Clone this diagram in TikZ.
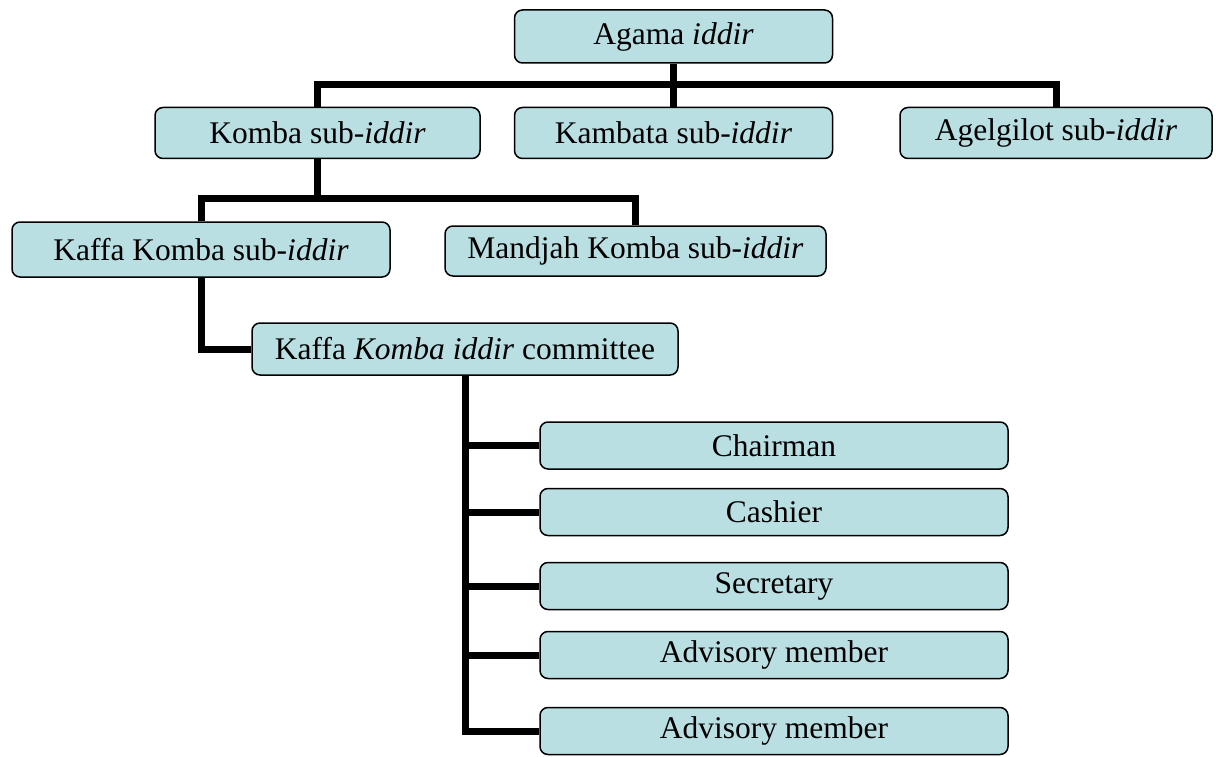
\documentclass[tikz,border=0pt]{standalone}
\usepackage{fontspec}
\setmainfont{Liberation Serif}
\usetikzlibrary{positioning}
\definecolor{boxblue}{RGB}{186,223,227}

\begin{document}
\begin{tikzpicture}[
        x=1pt, y=-1pt,
        node distance=22pt,
        orgbox/.style={rectangle, draw=black, fill=boxblue, line width=1.5pt, rounded corners=8pt, inner sep=0pt, align=center, font=\fontsize{31.5}{36}\selectfont},
        rolebox/.style={orgbox, minimum width=468pt, minimum height=47pt},
        link/.style={line width=7pt, draw=black}
    ]
    \useasboundingbox (0,0) rectangle (1216,757);

    \node (agama) [orgbox, minimum width=318pt, minimum height=53pt] at (673.5,36.5) {Agama \textit{iddir}};
    \node (komba) [orgbox, minimum width=325pt, minimum height=51pt] at (317.5,133) {Komba sub-\textit{iddir}};
    \node (kambata) [orgbox, minimum width=318pt, minimum height=51pt] at (673.5,133) {Kambata sub-\textit{iddir}};
    \node (agelgilot) [orgbox, minimum width=312pt, minimum height=51pt] at (1056,133) {Agelgilot sub-\textit{iddir}};

    \node (kaffa) [orgbox, minimum width=378pt, minimum height=55pt] at (201,249.5) {Kaffa Komba sub-\textit{iddir}};
    \node (mandjah) [orgbox, minimum width=381pt, minimum height=50pt] at (635.5,251) {Mandjah Komba sub-\textit{iddir}};

    \node (committee) [orgbox, minimum width=426pt, minimum height=52pt] at (465,349) {Kaffa \textit{Komba iddir} committee};

    \node (chairman) [rolebox] at (774,445.5) {Chairman};
    \node (cashier) [rolebox] at (774,512) {Cashier};
    \node (secretary) [rolebox] at (774,586) {Secretary};
    \node (advisory1) [rolebox] at (774,655) {Advisory member};
    \node (advisory2) [rolebox] at (774,731) {Advisory member};

    \coordinate (topbar) at (673.5,84.5);
    \coordinate (midbar) at (317.5,198);

    \draw [link] (agama) -- (kambata);
    \draw [link] (komba.north) |- (topbar) -| (agelgilot.north);
    \draw [link] (komba) -- (midbar);
    \draw [link] (kaffa.north) |- (midbar) -| (mandjah.north);
    \draw [link] (kaffa.south) |- (committee.west);
    \foreach \role in {chairman, cashier, secretary, advisory1, advisory2}
        \draw [link] (committee.south) |- (\role.west);

\end{tikzpicture}
\end{document}
